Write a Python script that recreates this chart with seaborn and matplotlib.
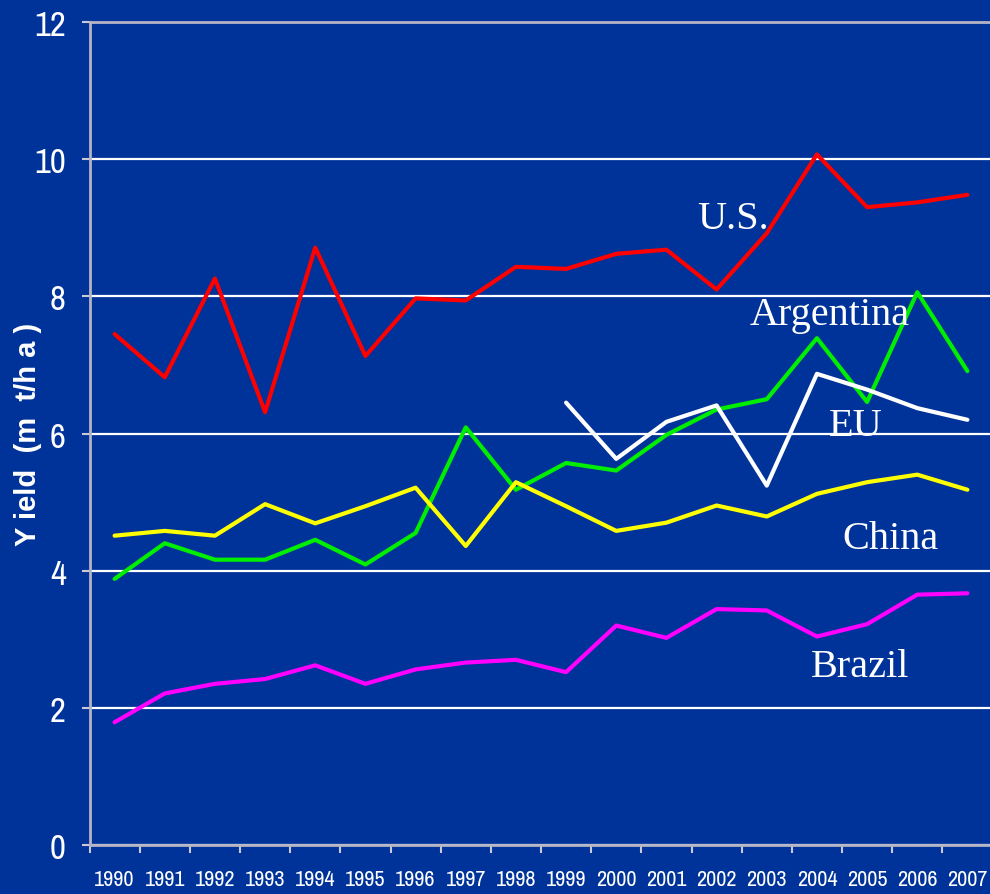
import numpy as np
import pandas as pd
import matplotlib
matplotlib.use("Agg")
import matplotlib.pyplot as plt
from matplotlib import font_manager as fm
import seaborn as sns
from matplotlib.ticker import MultipleLocator, FixedLocator

years = list(range(1990, 2008))
us = [7.45, 6.82, 8.26, 6.31, 8.71, 7.13, 7.97, 7.94, 8.43, 8.40, 8.62, 8.68, 8.10, 8.92, 10.07, 9.30, 9.37, 9.48]
argentina = [3.88, 4.40, 4.16, 4.16, 4.45, 4.09, 4.55, 6.09, 5.18, 5.57, 5.46, 5.98, 6.35, 6.50, 7.39, 6.46, 8.06, 6.91]
eu = [np.nan] * 9 + [6.45, 5.63, 6.17, 6.41, 5.24, 6.87, 6.64, 6.37, 6.20]
china = [4.51, 4.58, 4.51, 4.97, 4.69, 4.94, 5.21, 4.36, 5.29, 4.94, 4.58, 4.70, 4.95, 4.79, 5.12, 5.29, 5.40, 5.18]
brazil = [1.79, 2.21, 2.35, 2.42, 2.62, 2.35, 2.56, 2.66, 2.70, 2.52, 3.20, 3.02, 3.44, 3.42, 3.04, 3.22, 3.65, 3.67]

series = {"U.S.": us, "Argentina": argentina, "EU": eu, "China": china, "Brazil": brazil}
colors = {"U.S.": "#ff0000", "Argentina": "#00ee00", "EU": "#ffffff", "China": "#ffff00", "Brazil": "#ff00ff"}
label_pos = {"U.S.": (2002.33, 8.99), "Argentina": (2004.26, 7.59), "EU": (2004.78, 5.98),
             "China": (2005.47, 4.33), "Brazil": (2004.86, 2.46)}

df = pd.DataFrame([(name, y, v) for name, vals in series.items() for y, v in zip(years, vals)],
                  columns=["Country", "Year", "Yield"]).dropna()

bg = "#003399"
sns.set_theme(style="white")
plt.rcParams["font.family"] = ["Liberation Sans", "DejaVu Sans"]

# look for a narrow / condensed sans font for tick labels
narrow_file = None
for fe in fm.fontManager.ttflist:
    nm = fe.name.lower()
    if ("narrow" in nm or "condensed" in nm) and fe.weight in (400, "normal", "regular") and fe.style == "normal":
        narrow_file = fe.fname
        break
if narrow_file is None:
    for fe in fm.fontManager.ttflist:
        st = str(fe.stretch).lower()
        if "condensed" in st and "sans" in fe.name.lower() and fe.style == "normal" \
                and fe.weight in (400, "normal", "regular") and "mono" not in fe.name.lower():
            narrow_file = fe.fname
            break

if narrow_file is not None:
    ytick_fp = fm.FontProperties(fname=narrow_file, size=25)
    xtick_fp = fm.FontProperties(fname=narrow_file, size=16)
else:
    ytick_fp = fm.FontProperties(family="Liberation Sans", size=21)
    xtick_fp = fm.FontProperties(family="Liberation Sans", size=12)

fig = plt.figure(figsize=(9.9, 8.95), dpi=100, facecolor=bg)
ax = fig.add_axes([89.5 / 990, 49 / 895, 903 / 990, 823 / 895])
ax.set_facecolor(bg)

ax.yaxis.grid(True, color="white", linewidth=1.6)
ax.set_axisbelow(True)

sns.lineplot(data=df, x="Year", y="Yield", hue="Country", palette=colors,
             hue_order=list(series.keys()), linewidth=3, errorbar=None,
             legend=False, ax=ax)

for name, (x, y) in label_pos.items():
    ax.text(x, y, name, color="white", fontsize=29, ha="center", va="baseline",
            family=["Liberation Serif", "DejaVu Serif"])

ax.set_xlim(1989.5, 2007.5)
ax.set_ylim(0, 12)
ax.yaxis.set_major_locator(MultipleLocator(2))
ax.set_xticks(years)
ax.set_xticklabels([str(y) for y in years])
ax.xaxis.set_minor_locator(FixedLocator([y + 0.5 for y in range(1989, 2008)]))

ax.tick_params(axis="x", which="major", length=0, pad=17, labelcolor="white")
ax.tick_params(axis="x", which="minor", length=6, width=1.5, color="#c8c8d8", direction="out", bottom=True)
ax.tick_params(axis="y", which="major", length=6, width=1.5, color="#c8c8d8", direction="out",
               left=True, pad=11, labelcolor="white")
for lab in ax.get_xticklabels():
    lab.set_fontproperties(xtick_fp)
for lab in ax.get_yticklabels():
    lab.set_fontproperties(ytick_fp)

for side in ["left", "bottom", "top"]:
    ax.spines[side].set_visible(True)
    ax.spines[side].set_color("#b4b4c4")
    ax.spines[side].set_linewidth(2)
ax.spines["right"].set_visible(False)

ax.set_xlabel("")
ax.set_ylabel("Y ield  (m  t/h a )", color="white", fontsize=21, fontweight="bold")
ax.yaxis.set_label_coords(-0.053, 0.5)

fig.savefig("out.png", dpi=100, facecolor=bg)
